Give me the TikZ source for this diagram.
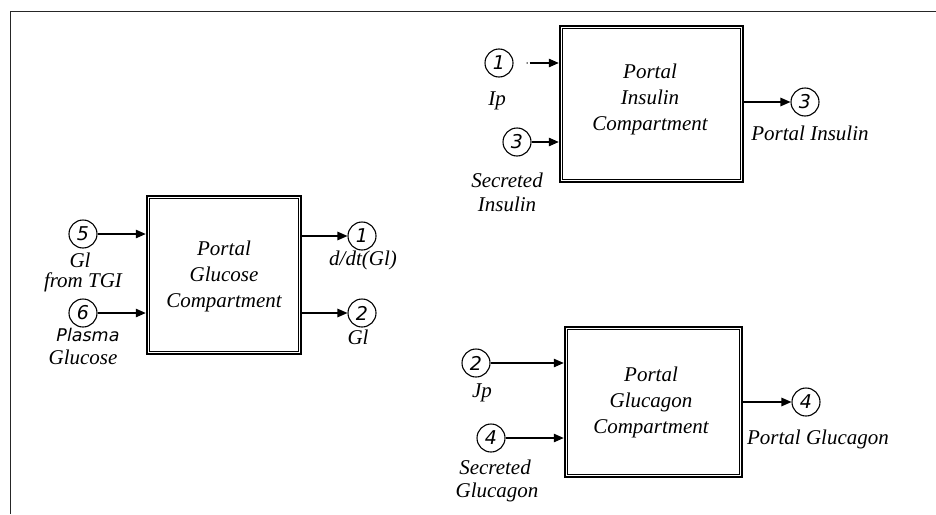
\documentclass[tikz,border=0pt]{standalone}
\usepackage{fontspec}
\setmainfont{Liberation Serif}
\newfontfamily\versans{DejaVu Sans}
\usetikzlibrary{arrows.meta}
\tikzset{
  compbox/.style={draw, line width=2.5pt, inner sep=0pt},
  boxtext/.style={align=center, font=\fontsize{21}{26}\selectfont\itshape, inner sep=0pt},
  port/.style={draw, circle, line width=1.1pt, minimum size=28pt, inner sep=0pt, font=\versans\fontsize{19}{21}\selectfont\itshape},
  lbl/.style={font=\fontsize{21}{24}\selectfont\itshape, inner sep=0pt, anchor=base},
  slbl/.style={font=\versans\fontsize{17.5}{20}\selectfont\itshape, inner sep=0pt, anchor=base},
  conn/.style={line width=1.2pt, -{Triangle[length=10pt,width=8.5pt]}},
}
\newcommand{\innerframe}[1]{\draw[line width=1.2pt] ([xshift=3.8pt,yshift=-3.8pt]#1.north west) rectangle ([xshift=-3.8pt,yshift=3.8pt]#1.south east);}
\begin{document}
\begin{tikzpicture}[x=1pt,y=-1pt]
\useasboundingbox (0,0) rectangle (936,514);
\fill[white] (0,0) rectangle (936,514);
% outer frame
\draw[line width=1.8pt, black!85] (10.5,514) -- (10.5,11.5) -- (936,11.5);

% ---------------- Portal Glucose Compartment
\node[compbox, minimum width=154pt, minimum height=158pt] (G) at (224,275) {};
\innerframe{G}
\node[boxtext] (Gt) at (224,276) {Portal\\Glucose\\Compartment};
\node[port] (g5) at (83,234) {5};
\node[port] (g6) at (83,313) {6};
\node[port] (g1) at (362,236) {1};
\node[port] (g2) at (362,313) {2};
\draw[conn] (g5.east) -- (g5.east -| G.west);
\draw[conn] (g6.east) -- (g6.east -| G.west);
\draw[conn] (G.east |- g1.west) -- (g1.west);
\draw[conn] (G.east |- g2.west) -- (g2.west);
\node[lbl] (l5a) at (80,267) {Gl};
\node[lbl] (l5b) at (83,287) {from TGI};
\node[slbl] (l6a) at (88,341) {Plasma};
\node[lbl] (l6b) at (83,364) {Glucose};
\node[lbl] (l1) at (363,265) {d/dt(Gl)};
\node[lbl] (l2) at (358,344) {Gl};

% ---------------- Portal Insulin Compartment
\node[compbox, minimum width=183pt, minimum height=156pt] (I) at (651.5,104) {};
\innerframe{I}
\node[boxtext] (It) at (650,99) {Portal\\Insulin\\Compartment};
\node[port] (i1) at (499,63) {1};
\node[port] (i3) at (517,142) {3};
\node[port] (o3) at (805,102) {3};
\fill (i1.east) ++(13.5,0) circle (0.8pt);
\draw[conn] ([xshift=16pt]i1.east) -- (i1.east -| I.west);
\draw[conn] (i3.east) -- (i3.east -| I.west);
\draw[conn] (I.east |- o3.west) -- (o3.west);
\node[lbl] (lip) at (497,105) {Ip};
\node[lbl] (lsi1) at (507,187) {Secreted};
\node[lbl] (lsi2) at (507,211) {Insulin};
\node[lbl] (lpi) at (810,140) {Portal Insulin};

% ---------------- Portal Glucagon Compartment
\node[compbox, minimum width=177pt, minimum height=150pt] (C) at (653.5,402) {};
\innerframe{C}
\node[boxtext] (Ct) at (651,402) {Portal\\Glucagon\\Compartment};
\node[port] (j2) at (476,363) {2};
\node[port] (j4) at (491,438) {4};
\node[port] (o4) at (806,402) {4};
\draw[conn] (j2.east) -- (j2.east -| C.west);
\draw[conn] (j4.east) -- (j4.east -| C.west);
\draw[conn] (C.east |- o4.west) -- (o4.west);
\node[lbl] (ljp) at (482,397) {Jp};
\node[lbl] (lsg1) at (495,474) {Secreted};
\node[lbl] (lsg2) at (497,497) {Glucagon};
\node[lbl] (lpg) at (818,444) {Portal Glucagon};
\end{tikzpicture}
\end{document}
